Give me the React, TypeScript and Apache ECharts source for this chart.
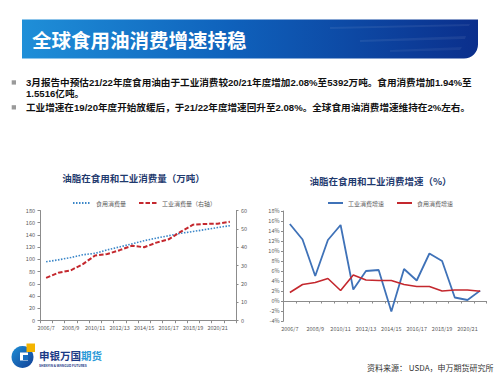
import React, { useEffect, useRef } from "react";
import * as echarts from "echarts";

const categories = [
  "2006/7", "2007/8", "2008/9", "2009/10", "2010/11", "2011/12", "2012/13", "2013/14",
  "2014/15", "2015/16", "2016/17", "2017/18", "2018/19", "2019/20", "2020/21", "2021/22",
];
// Left chart (万吨 scale as drawn)
const foodConsumption = [96.2, 99.4, 103.1, 107.7, 110.0, 115.7, 120.5, 125.5, 130.6, 134.9, 138.8, 142.8, 145.7, 148.9, 152.2, 155.2];
const industrialConsumption = [23.3, 26.1, 27.4, 30.8, 35.5, 36.3, 38.4, 40.8, 40.0, 42.5, 44.3, 48.5, 52.3, 52.7, 52.8, 53.9];
// Right chart (%)
const industrialGrowth = [15.4, 12.3, 5.0, 12.2, 15.2, 2.3, 6.0, 6.2, -2.1, 6.4, 4.1, 9.5, 8.0, 0.7, 0.2, 2.08];
const foodGrowth = [1.7, 3.3, 3.7, 4.5, 2.1, 5.2, 4.2, 4.1, 4.1, 3.3, 2.9, 2.9, 2.0, 2.2, 2.2, 1.94];

const leftTicks = { min: 0, max: 180, interval: 20 };
const rightTicks = { min: 0, max: 60, interval: 10 };
const growthTicks = { min: -4, max: 18, interval: 2 };

const bulletLines = [
  "3月报告中预估21/22年度食用油由于工业消费较20/21年度增加2.08%至5392万吨。食用消费增加1.94%至",
  "1.5516亿吨。",
  "工业增速在19/20年度开始放缓后，于21/22年度增速回升至2.08%。全球食用油消费增速维持在2%左右。",
];

const FONT = "'Noto Sans CJK SC', 'Noto Sans', sans-serif";
const BULLET_FONT = "'Liberation Sans', 'Noto Sans CJK SC', sans-serif";
const AXIS_COLOR = "#8c8c8c";
const LABEL_COLOR = "#595959";
const BLUE = "#3f72b8";
const RED = "#c4282e";

export default function App() {
  const ref = useRef<HTMLDivElement>(null);

  useEffect(() => {
    if (!ref.current) return;
    const chart = echarts.init(ref.current, null, { renderer: "svg" });

    const axisLine = { show: true, lineStyle: { color: AXIS_COLOR, width: 1 } };
    const axisTick = { show: true, length: 2.5, lineStyle: { color: AXIS_COLOR } };
    const labelStyle = { fontSize: 5.5, color: LABEL_COLOR, fontFamily: FONT };

    const bannerGrad = new echarts.graphic.LinearGradient(0, 0, 1, 0, [
      { offset: 0, color: "#1f8fd8" },
      { offset: 0.45, color: "#0f62bc" },
      { offset: 1, color: "#0b2f8c" },
    ]);

    const legendCommon = {
      itemHeight: 6,
      itemGap: 12,
      itemStyle: { opacity: 0, borderWidth: 0 },
      textStyle: { fontSize: 6, color: LABEL_COLOR, fontFamily: FONT },
    };

    const bulletStyle = (text: string) => ({
      text,
      fill: "#111111",
      font: `bold 9.6px ${BULLET_FONT}`,
      textVerticalAlign: "middle",
    });

    const option: any = {
      animation: false,
      backgroundColor: "#ffffff",
      textStyle: { fontFamily: FONT },
      title: [
        {
          text: "油脂在食用和工业消费量（万吨）",
          left: 128.5,
          top: 168,
          textAlign: "center",
          textStyle: { fontSize: 9.5, fontWeight: "bold", color: "#1f3a6e", fontFamily: FONT },
        },
        {
          text: "油脂在食用和工业消费增速（%）",
          left: 375.5,
          top: 171.5,
          textAlign: "center",
          textStyle: { fontSize: 9.5, fontWeight: "bold", color: "#1f3a6e", fontFamily: FONT },
        },
      ],
      legend: [
        {
          ...legendCommon,
          data: ["食用消费量", "工业消费量（右轴）"],
          left: 67,
          top: 195,
          itemWidth: 18,
        },
        {
          ...legendCommon,
          data: ["工业消费增速", "食用消费增速"],
          left: 322,
          top: 195,
          itemWidth: 15,
        },
      ],
      grid: [
        { left: 40, top: 210.5, width: 196, height: 110.2, containLabel: false },
        { left: 283.5, top: 211, width: 203, height: 110, containLabel: false },
      ],
      xAxis: [
        {
          type: "category",
          gridIndex: 0,
          data: categories,
          boundaryGap: true,
          axisLine,
          axisTick: { ...axisTick, interval: 0 },
          axisLabel: { ...labelStyle, interval: 1, margin: 5 },
          splitLine: { show: false },
        },
        {
          type: "category",
          gridIndex: 1,
          data: categories,
          boundaryGap: true,
          position: "bottom",
          axisLine: { ...axisLine, onZero: true },
          axisTick: { ...axisTick, interval: 0 },
          axisLabel: { show: false },
          splitLine: { show: false },
        },
        {
          type: "category",
          gridIndex: 1,
          data: categories,
          boundaryGap: true,
          position: "bottom",
          axisLine: { show: false, onZero: false },
          axisTick: { show: false },
          axisLabel: { ...labelStyle, interval: 1, margin: 5 },
          splitLine: { show: false },
        },
      ],
      yAxis: [
        {
          type: "value",
          gridIndex: 0,
          position: "left",
          ...leftTicks,
          axisLine,
          axisTick,
          axisLabel: { ...labelStyle, margin: 5 },
          splitLine: { show: false },
        },
        {
          type: "value",
          gridIndex: 0,
          position: "right",
          ...rightTicks,
          axisLine,
          axisTick,
          axisLabel: { ...labelStyle, margin: 5 },
          splitLine: { show: false },
        },
        {
          type: "value",
          gridIndex: 1,
          position: "left",
          ...growthTicks,
          axisLine,
          axisTick,
          axisLabel: { ...labelStyle, margin: 4, formatter: "{value}%" },
          splitLine: { show: false },
        },
      ],
      series: [
        {
          name: "食用消费量",
          type: "line",
          xAxisIndex: 0,
          yAxisIndex: 0,
          data: foodConsumption,
          symbol: "none",
          lineStyle: { color: "#3a86c8", width: 1.6, type: [1.5, 1.5] },
          itemStyle: { color: "#3a86c8" },
        },
        {
          name: "工业消费量（右轴）",
          type: "line",
          xAxisIndex: 0,
          yAxisIndex: 1,
          data: industrialConsumption,
          symbol: "none",
          lineStyle: { color: RED, width: 2, type: [4.5, 2] },
          itemStyle: { color: RED },
        },
        {
          name: "工业消费增速",
          type: "line",
          xAxisIndex: 1,
          yAxisIndex: 2,
          data: industrialGrowth,
          symbol: "none",
          lineStyle: { color: BLUE, width: 1.8 },
          itemStyle: { color: BLUE },
        },
        {
          name: "食用消费增速",
          type: "line",
          xAxisIndex: 1,
          yAxisIndex: 2,
          data: foodGrowth,
          symbol: "none",
          lineStyle: { color: RED, width: 1.6 },
          itemStyle: { color: RED },
        },
      ],
      graphic: [
        {
          type: "rect",
          shape: { x: 22, y: 19.5, width: 456, height: 39, r: [0, 0, 14, 0] },
          style: { fill: bannerGrad },
          silent: true,
        },
        {
          type: "polygon",
          shape: { points: [[330, 27], [470, 24], [469, 26], [330, 29]] },
          style: { fill: "rgba(255,255,255,0.07)" },
          silent: true,
        },
        {
          type: "polygon",
          shape: { points: [[360, 40], [466, 36], [465, 39], [360, 42]] },
          style: { fill: "rgba(255,255,255,0.07)" },
          silent: true,
        },
        {
          type: "polygon",
          shape: { points: [[390, 50], [462, 47], [460, 50], [390, 52]] },
          style: { fill: "rgba(255,255,255,0.06)" },
          silent: true,
        },
        {
          type: "text",
          x: 32,
          y: 39,
          style: {
            text: "全球食用油消费增速持稳",
            fill: "#ffffff",
            font: `bold 19.5px ${FONT}`,
            textVerticalAlign: "middle",
          },
          silent: true,
        },
        {
          type: "rect",
          shape: { x: 11.7, y: 80.3, width: 4.3, height: 4.3 },
          style: { fill: "#9a9a9a" },
        },
        {
          type: "rect",
          shape: { x: 11.7, y: 105.2, width: 4.3, height: 4.3 },
          style: { fill: "#9a9a9a" },
        },
        { type: "text", x: 26, y: 82.3, style: bulletStyle(bulletLines[0]) },
        { type: "text", x: 26, y: 93.4, style: bulletStyle(bulletLines[1]) },
        { type: "text", x: 26, y: 107.3, style: bulletStyle(bulletLines[2]) },
        // logo
        {
          type: "circle",
          shape: { cx: 22.5, cy: 357, r: 11 },
          style: {
            fill: new echarts.graphic.LinearGradient(0, 0, 1, 1, [
              { offset: 0, color: "#1e8fd6" },
              { offset: 1, color: "#123f96" },
            ]),
          },
        },
        {
          type: "rect",
          shape: { x: 20, y: 352.5, width: 8, height: 8 },
          style: { fill: "#ffffff" },
        },
        {
          type: "rect",
          shape: { x: 23, y: 355, width: 5, height: 5 },
          style: { fill: "#1a6fc0" },
        },
        {
          type: "rect",
          shape: { x: 26.5, y: 343.5, width: 8.5, height: 8.5 },
          style: { fill: "#f4b400" },
        },
        {
          type: "text",
          x: 39,
          y: 355.5,
          style: {
            text: "{a|申银万国}{b|期货}",
            textVerticalAlign: "middle",
            rich: {
              a: { fontSize: 10.5, fontWeight: "bold", fill: "#1b3a86", fontFamily: FONT },
              b: { fontSize: 10.5, fontWeight: "bold", fill: "#2d9ad8", fontFamily: FONT },
            },
          },
        },
        {
          type: "text",
          x: 39,
          y: 365,
          style: {
            text: "SHENYIN & WANGUO FUTURES",
            fill: "#1b3a86",
            font: `bold 3.2px ${FONT}`,
            textVerticalAlign: "middle",
          },
        },
        {
          type: "text",
          x: 367,
          y: 367.5,
          style: {
            text: "资料来源： USDA，申万期货研究所",
            fill: "#333333",
            font: `8px ${FONT}`,
            textVerticalAlign: "middle",
          },
        },
      ],
    };

    chart.setOption(option);
    return () => chart.dispose();
  }, []);

  return (
    <div
      ref={ref}
      style={{ position: "absolute", left: 0, top: 0, width: 500, height: 375, background: "#fff" }}
    />
  );
}
